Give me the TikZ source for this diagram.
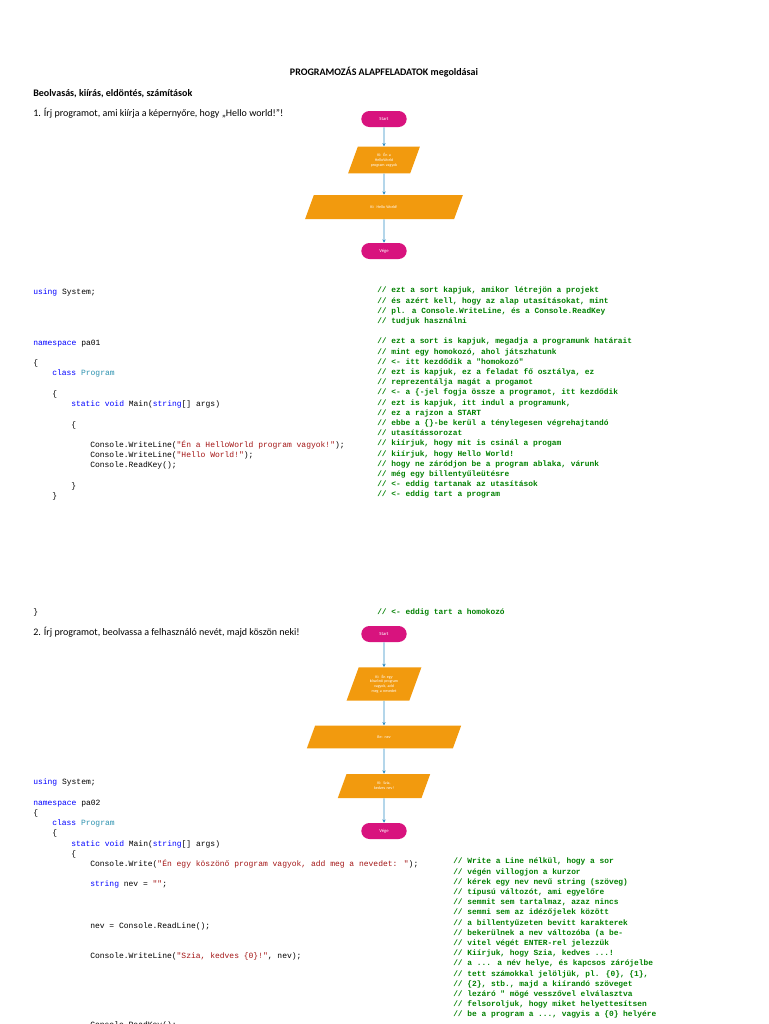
\documentclass[tikz,border=0pt]{standalone}
\usepackage{fontspec}
\setmainfont{Carlito}
\newfontfamily\codef{Liberation Mono}
\usetikzlibrary{shapes.geometric,shapes.misc,arrows.meta}
\definecolor{term}{HTML}{D8137E}
\definecolor{io}{HTML}{F29A0E}
\definecolor{arr}{HTML}{2D8CC4}
\definecolor{kw}{HTML}{0000FF}
\definecolor{cls}{HTML}{2B91AF}
\definecolor{str}{HTML}{A31515}
\definecolor{cmt}{HTML}{008000}
\newcommand{\K}[1]{\textcolor{kw}{#1}}
\newcommand{\Cl}[1]{\textcolor{cls}{#1}}
\newcommand{\Sg}[1]{\textcolor{str}{#1}}
\begin{document}
\begin{tikzpicture}[x=0.75pt,y=-0.75pt,
  txt/.style={anchor=base west,inner sep=0,font=\fontsize{7.5}{9}\selectfont},
  hd/.style={txt,font=\fontsize{7.5}{9}\selectfont\bfseries},
  code/.style={anchor=base west,inner sep=0,font=\codef\fontsize{6}{7}\selectfont},
  cmtx/.style={code,text=cmt,align=left,font=\codef\bfseries\fontsize{5.9}{7.65}\selectfont},
  term/.style={rounded rectangle,fill=term,minimum width=34pt,minimum height=12pt,text=white,font=\fontsize{3.5}{4}\selectfont,inner sep=0},
  io/.style={trapezium,trapezium left angle=70,trapezium right angle=110,fill=io,text=white,align=center,font=\fontsize{3}{3.6}\selectfont,inner sep=1pt,text width=22pt},
  ar/.style={arr,line width=0.6pt,-{Stealth[length=2.5pt,width=2.5pt]}}]
\useasboundingbox (0,0) rectangle (768,1024);
\fill[white] (0,0) rectangle (768,1024);
\node[hd,anchor=base] (title) at (384,75) {PROGRAMOZÁS ALAPFELADATOK megoldásai};
\node[hd] (sub) at (33,96) {Beolvasás, kiírás, eldöntés, számítások};
\node[txt] (q1) at (33,117) {1. Írj programot, ami kiírja a képernyőre, hogy „Hello world!”!};
% flowchart 1
\node[term] (s1) at (384,119) {Start};
\node[io,minimum height=20pt] (p1) at (384,160) {Ki: Én a HelloWorld program vagyok};
\node[io,minimum height=18pt] (p2) at (384,207) {Ki: Hello World!};
\node[term] (e1) at (384,251) {Vége};
\draw[ar] (s1) -- (p1); \draw[ar] (p1) -- (p2); \draw[ar] (p2) -- (e1);
% code 1
\node[code] (c1) at (33,294) {\K{using} System;};
\node[code] (c2) at (33,345) {\K{namespace} pa01};
\node[code] (c3) at (33,365) {\{};
\node[code] (c4) at (52,375) {\K{class} \Cl{Program}};
\node[code] (c5) at (52,396) {\{};
\node[code] (c6) at (71,406) {\K{static} \K{void} Main(\K{string}[] args)};
\node[code] (c7) at (71,427) {\{};
\node[code] (c8) at (90,447) {Console.WriteLine(\Sg{"Én a HelloWorld program vagyok!"});};
\node[code] (c9) at (90,457) {Console.WriteLine(\Sg{"Hello World!"});};
\node[code] (c10) at (90,467) {Console.ReadKey();};
\node[code] (c11) at (71,488) {\}};
\node[code] (c12) at (52,498) {\}};
\node[code] (c13) at (33,614) {\}};
\node[cmtx,anchor=north west] (k1) at (377,287) {// ezt a sort kapjuk, amikor létrejön a projekt\\// és azért kell, hogy az alap utasításokat, mint\\// pl. a Console.WriteLine, és a Console.ReadKey\\// tudjuk használni};
\node[cmtx,anchor=north west] (k2) at (377,338) {// ezt a sort is kapjuk, megadja a programunk határait\\// mint egy homokozó, ahol játszhatunk\\// <- itt kezdődik a "homokozó"\\// ezt is kapjuk, ez a feladat fő osztálya, ez\\// reprezentálja magát a progamot\\// <- a \{-jel fogja össze a programot, itt kezdődik\\// ezt is kapjuk, itt indul a programunk,\\// ez a rajzon a START\\// ebbe a \{\}-be kerül a ténylegesen végrehajtandó\\// utasítássorozat\\// kiírjuk, hogy mit is csinál a progam\\// kiírjuk, hogy Hello World!\\// hogy ne záródjon be a program ablaka, várunk\\// még egy billentyűleütésre\\// <- eddig tartanak az utasítások\\// <- eddig tart a program};
\node[cmtx] (k3) at (377,614) {// <- eddig tart a homokozó};
% task 2
\node[txt] (q2) at (33,635) {2. Írj programot, beolvassa a felhasználó nevét, majd köszön neki!};
\node[term] (s2) at (384,634) {Start};
\node[io,minimum height=25pt] (r1) at (384,684) {Ki: Én egy köszönő program vagyok, add meg a nevedet};
\node[io,minimum height=17pt] (r2) at (384,737) {Be: nev};
\node[io,minimum height=18pt] (r3) at (384,786) {Ki: Szia, kedves nev!};
\node[term] (e2) at (384,831) {Vége};
\draw[ar] (s2) -- (r1); \draw[ar] (r1) -- (r2); \draw[ar] (r2) -- (r3); \draw[ar] (r3) -- (e2);
\node[code] (d1) at (33,784) {\K{using} System;};
\node[code] (d2) at (33,805) {\K{namespace} pa02};
\node[code] (d3) at (33,815) {\{};
\node[code] (d4) at (52,825) {\K{class} \Cl{Program}};
\node[code] (d5) at (52,835) {\{};
\node[code] (d6) at (71,846) {\K{static} \K{void} Main(\K{string}[] args)};
\node[code] (d7) at (71,856) {\{};
\node[code] (d8) at (90,866) {Console.Write(\Sg{"Én egy köszönő program vagyok, add meg a nevedet: "});};
\node[code] (d9) at (90,886) {\K{string} nev = \Sg{""};};
\node[code] (d10) at (90,928) {nev = Console.ReadLine();};
\node[code] (d11) at (90,958) {Console.WriteLine(\Sg{"Szia, kedves \{0\}!"}, nev);};
\node[code] (d12) at (90,1027) {Console.ReadKey();};
\node[cmtx,anchor=north west] (k4) at (453,858) {// Write a Line nélkül, hogy a sor\\// végén villogjon a kurzor\\// kérek egy nev nevű string (szöveg)\\// típusú változót, ami egyelőre\\// semmit sem tartalmaz, azaz nincs\\// semmi sem az idézőjelek között\\// a billentyűzeten bevitt karakterek\\// bekerülnek a nev változóba (a be-\\// vitel végét ENTER-rel jelezzük\\// Kiírjuk, hogy Szia, kedves ...!\\// a ... a név helye, és kapcsos zárójelbe\\// tett számokkal jelöljük, pl. \{0\}, \{1\},\\// \{2\}, stb., majd a kiírandó szöveget\\// lezáró " mögé vesszővel elválasztva\\// felsoroljuk, hogy miket helyettesítsen\\// be a program a ..., vagyis a \{0\} helyére};
\end{tikzpicture}
\end{document}
